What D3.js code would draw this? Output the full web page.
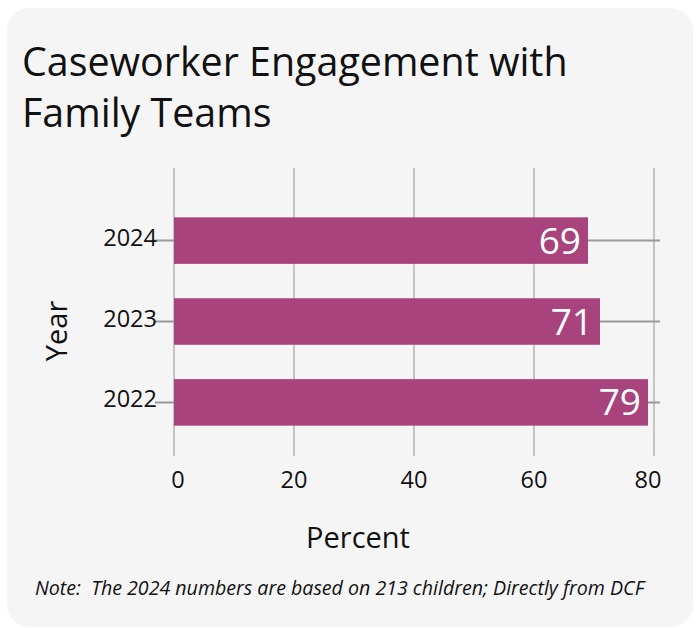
<!DOCTYPE html>
<html>
<head>
<meta charset="utf-8">
<script src="https://cdn.jsdelivr.net/npm/d3@7"></script>
<style>
  html, body { margin: 0; padding: 0; background: #ffffff; }
  svg { display: block; }
  text { font-family: "Open Sans", "Noto Sans", sans-serif; white-space: pre; }
</style>
</head>
<body>
<script>
// Share of children whose caseworker engaged with the family team, by year
const years = ["2024", "2023", "2022"];
const percents = [69, 71, 79];
const xTicks = [0, 20, 40, 60, 80];
const titleLines = ["Caseworker Engagement with", "Family Teams"];
const xAxisTitle = "Percent";
const yAxisTitle = "Year";
const note = "Note:  The 2024 numbers are based on 213 children; Directly from DCF";

const W = 699, H = 628;
const barColor = "#a8437e";

const svg = d3.select("body").append("svg")
  .attr("width", W).attr("height", H);

// Card background
svg.append("rect")
  .attr("x", 7).attr("y", 8)
  .attr("width", 686).attr("height", 619)
  .attr("rx", 22).attr("ry", 22)
  .attr("fill", "#f5f5f5");

// Title
const title = svg.append("text")
  .attr("x", 22).attr("y", 76)
  .attr("font-size", 39.4)
  .attr("fill", "#111");
title.selectAll("tspan").data(titleLines).join("tspan")
  .attr("x", 22)
  .attr("dy", (d, i) => i === 0 ? 0 : 51)
  .text(d => d);

// Scales
const x = d3.scaleLinear().domain([0, 81]).range([174, 660]);
const y = d3.scaleBand().domain(years).range([183, 460]).paddingInner(0.425).paddingOuter(0.425);

// Vertical gridlines
svg.append("g").selectAll("line").data(xTicks).join("line")
  .attr("x1", d => x(d)).attr("x2", d => x(d))
  .attr("y1", 168).attr("y2", 456)
  .attr("stroke", "#b3b3b3").attr("stroke-width", 1.5);

// Horizontal lines through each category (y ticks extended)
svg.append("g").selectAll("line").data(years).join("line")
  .attr("x1", 155).attr("x2", 660)
  .attr("y1", d => y(d) + y.bandwidth() / 2)
  .attr("y2", d => y(d) + y.bandwidth() / 2)
  .attr("stroke", "#999").attr("stroke-width", 2);

// Bars
const rows = years.map((yr, i) => ({ year: yr, value: percents[i] }));
svg.append("g").selectAll("rect").data(rows).join("rect")
  .attr("x", x(0))
  .attr("y", d => y(d.year))
  .attr("width", d => x(d.value) - x(0))
  .attr("height", y.bandwidth())
  .attr("fill", barColor);

// Value labels inside bar ends
svg.append("g").selectAll("text").data(rows).join("text")
  .attr("x", d => x(d.value) - 7)
  .attr("y", d => y(d.year) + y.bandwidth() / 2 + 13)
  .attr("text-anchor", "end")
  .attr("font-size", 37)
  .attr("fill", "#ffffff")
  .text(d => d.value);

// Y tick labels
svg.append("g").selectAll("text").data(years).join("text")
  .attr("x", 157)
  .attr("y", d => y(d) + y.bandwidth() / 2 + 5)
  .attr("text-anchor", "end")
  .attr("font-size", 23.5)
  .attr("fill", "#111")
  .text(d => d);

// X tick labels
svg.append("g").selectAll("text").data(xTicks).join("text")
  .attr("x", d => x(d) + (d === 0 ? 4 : d === 80 ? -6 : 0))
  .attr("y", 488)
  .attr("text-anchor", "middle")
  .attr("font-size", 23.5)
  .attr("fill", "#111")
  .text(d => d);

// Axis titles
svg.append("text")
  .attr("x", 358).attr("y", 548)
  .attr("text-anchor", "middle")
  .attr("font-size", 29)
  .attr("fill", "#111")
  .text(xAxisTitle);

svg.append("text")
  .attr("transform", "translate(67,331) rotate(-90)")
  .attr("text-anchor", "middle")
  .attr("font-size", 29)
  .attr("fill", "#111")
  .text(yAxisTitle);

// Footnote
svg.append("text")
  .attr("x", 35).attr("y", 595)
  .attr("font-size", 19.6)
  .attr("font-style", "italic")
  .attr("fill", "#111")
  .text(note);
</script>
</body>
</html>
